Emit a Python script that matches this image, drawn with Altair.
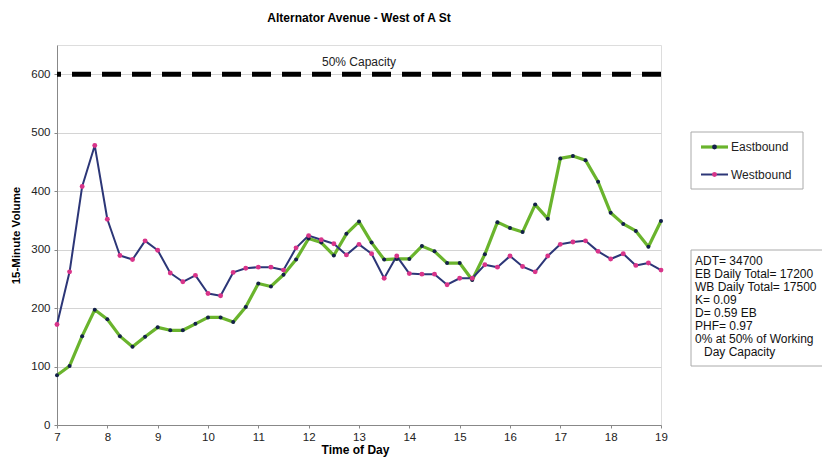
import altair as alt
import pandas as pd

# ---- data ----
eastbound = [85, 101, 152, 197,
             181, 152, 134, 151,
             167, 162, 162, 173,
             184, 184, 176, 202,
             242, 237, 257, 283,
             319, 312, 290, 327,
             348, 312, 283, 284,
             284, 306, 297, 277,
             277, 248, 292, 347,
             337, 330, 377, 353,
             456, 460, 453, 416,
             363, 344, 332, 305,
             349]
westbound = [172, 262, 408, 478,
             352, 290, 283, 315,
             299, 260, 245, 256,
             225, 221, 261, 268,
             270, 270, 265, 303,
             324, 317, 310, 291,
             309, 293, 251, 289,
             259, 258, 258, 240,
             251, 251, 274, 270,
             289, 271, 262, 289,
             309, 313, 315, 297,
             284, 293, 273, 277,
             265]
hours = [7 + i * 0.25 for i in range(len(eastbound))]
series_names = ["Eastbound", "Westbound"]
capacity_value = 600
capacity_label = "50% Capacity"
title_text = "Alternator Avenue - West of A St"
info_lines = ["ADT= 34700", "EB Daily Total= 17200", "WB Daily Total= 17500",
              "K= 0.09", "D= 0.59 EB", "PHF= 0.97",
              "0% at 50% of Working"]
info_last = "Day Capacity"
y_ticks = [0, 100, 200, 300, 400, 500, 600]

df = pd.DataFrame({
    "t": hours * 2,
    "v": eastbound + westbound,
    "s": [series_names[0]] * len(hours) + [series_names[1]] * len(hours),
})

FONT = "Liberation Sans"
W, H = 604, 380
EB_LINE = "#6ab42d"
EB_PT = "#14204a"
WB_LINE = "#2c3677"
WB_PT = "#d8348a"

xq = alt.X("t:Q",
           scale=alt.Scale(domain=[7, 19], nice=False, zero=False),
           axis=alt.Axis(values=[7 + i * 0.25 for i in range(49)],
                         labelExpr="datum.value % 1 == 0 ? datum.label : ''",
                         title="Time of Day", titleFontWeight="bold",
                         titleFontSize=12, titleFont=FONT, titleColor="#000",
                         titlePadding=2, titleX=298,
                         labelFont=FONT, labelFontSize=11.5, labelColor="#222",
                         labelPadding=3, tickSize=3, tickColor="#888",
                         domainColor="#888", grid=False, labelFlush=False))
yq = alt.Y("v:Q",
           scale=alt.Scale(domain=[0, 650], nice=False),
           axis=alt.Axis(values=y_ticks, title="15-Minute Volume",
                         titleFontWeight="bold", titleFontSize=11.5,
                         titleFont=FONT, titleColor="#000", titlePadding=9,
                         labelFont=FONT, labelFontSize=11.5, labelColor="#222",
                         labelPadding=4, tickSize=3, tickColor="#888",
                         domainColor="#888", gridColor="#d4d4d4"))

base = alt.Chart(df)

lines = base.mark_line(strokeJoin="round").encode(
    x=xq, y=yq,
    color=alt.Color("s:N", scale=alt.Scale(domain=series_names,
                                           range=[EB_LINE, WB_LINE]), legend=None),
    strokeWidth=alt.StrokeWidth("s:N", scale=alt.Scale(domain=series_names,
                                                       range=[3.2, 2]), legend=None),
)
points = base.mark_point(filled=True, opacity=1, strokeWidth=0).encode(
    x="t:Q", y="v:Q",
    fill=alt.Fill("s:N", scale=alt.Scale(domain=series_names,
                                         range=[EB_PT, WB_PT]), legend=None),
    size=alt.Size("s:N", scale=alt.Scale(domain=series_names, range=[16, 24]),
                  legend=None),
)

cap = alt.Chart(pd.DataFrame({"c": [capacity_value]})).mark_rule(
    color="black", strokeWidth=5, strokeDash=[19, 11]).encode(y="c:Q")
cap_text = alt.Chart(pd.DataFrame({"c": [capacity_value]})).mark_text(
    font=FONT, fontSize=12, color="#222").encode(
    x=alt.value(W / 2), y=alt.value(17), text=alt.value(capacity_label))

# legend box (pixel positions relative to plot area origin)
lx0, ly0 = 634, 87
leg_box = alt.Chart(pd.DataFrame({"a": [0]})).mark_rect(
    fill="white", stroke="#aaa", strokeWidth=1).encode(
    x=alt.value(lx0), x2=alt.value(lx0 + 112), y=alt.value(ly0), y2=alt.value(ly0 + 57))
leg_items = []
for i, (nm, lc, pc, lw) in enumerate([(series_names[0], EB_LINE, EB_PT, 3.2),
                                      (series_names[1], WB_LINE, WB_PT, 2)]):
    yy = ly0 + 15 + i * 27.5
    leg_items.append(alt.Chart(pd.DataFrame({"a": [0]})).mark_rule(
        color=lc, strokeWidth=lw).encode(
        x=alt.value(lx0 + 10), x2=alt.value(lx0 + 37), y=alt.value(yy)))
    leg_items.append(alt.Chart(pd.DataFrame({"a": [0]})).mark_point(
        filled=True, opacity=1, color=pc, size=24, strokeWidth=0).encode(
        x=alt.value(lx0 + 23.5), y=alt.value(yy)))
    leg_items.append(alt.Chart(pd.DataFrame({"a": [0]})).mark_text(
        font=FONT, fontSize=12, color="#222", align="left", baseline="middle").encode(
        x=alt.value(lx0 + 40), y=alt.value(yy), text=alt.value(nm)))

# info box
ix0, iy0 = 634, 205
info_box = alt.Chart(pd.DataFrame({"a": [0]})).mark_rect(
    fill="white", stroke="#aaa", strokeWidth=1).encode(
    x=alt.value(ix0), x2=alt.value(ix0 + 160), y=alt.value(iy0), y2=alt.value(iy0 + 116))
info_text = alt.Chart(pd.DataFrame({"a": [0]})).mark_text(
    font=FONT, fontSize=12, color="#111", align="left", baseline="top",
    lineHeight=13).encode(
    x=alt.value(ix0 + 4), y=alt.value(iy0 + 6), text=alt.value(info_lines))
info_text2 = alt.Chart(pd.DataFrame({"a": [0]})).mark_text(
    font=FONT, fontSize=12, color="#111", align="left", baseline="top").encode(
    x=alt.value(ix0 + 13), y=alt.value(iy0 + 6 + 13 * len(info_lines)),
    text=alt.value(info_last))

chart = alt.layer(
    cap, cap_text, lines, points, leg_box, *leg_items, info_box, info_text, info_text2
).properties(
    width=W, height=H,
    title=alt.TitleParams(title_text, font=FONT, fontSize=12, fontWeight="bold",
                          color="#000", anchor="middle", offset=20),
    padding={"left": 49, "top": 37, "right": 161, "bottom": 34},
    autosize=alt.AutoSizeParams(type="none"),
).configure_view(stroke="#999", strokeWidth=1.2).configure(background="white")

chart.save("out.html", embed_options={"renderer": "svg", "actions": False})
